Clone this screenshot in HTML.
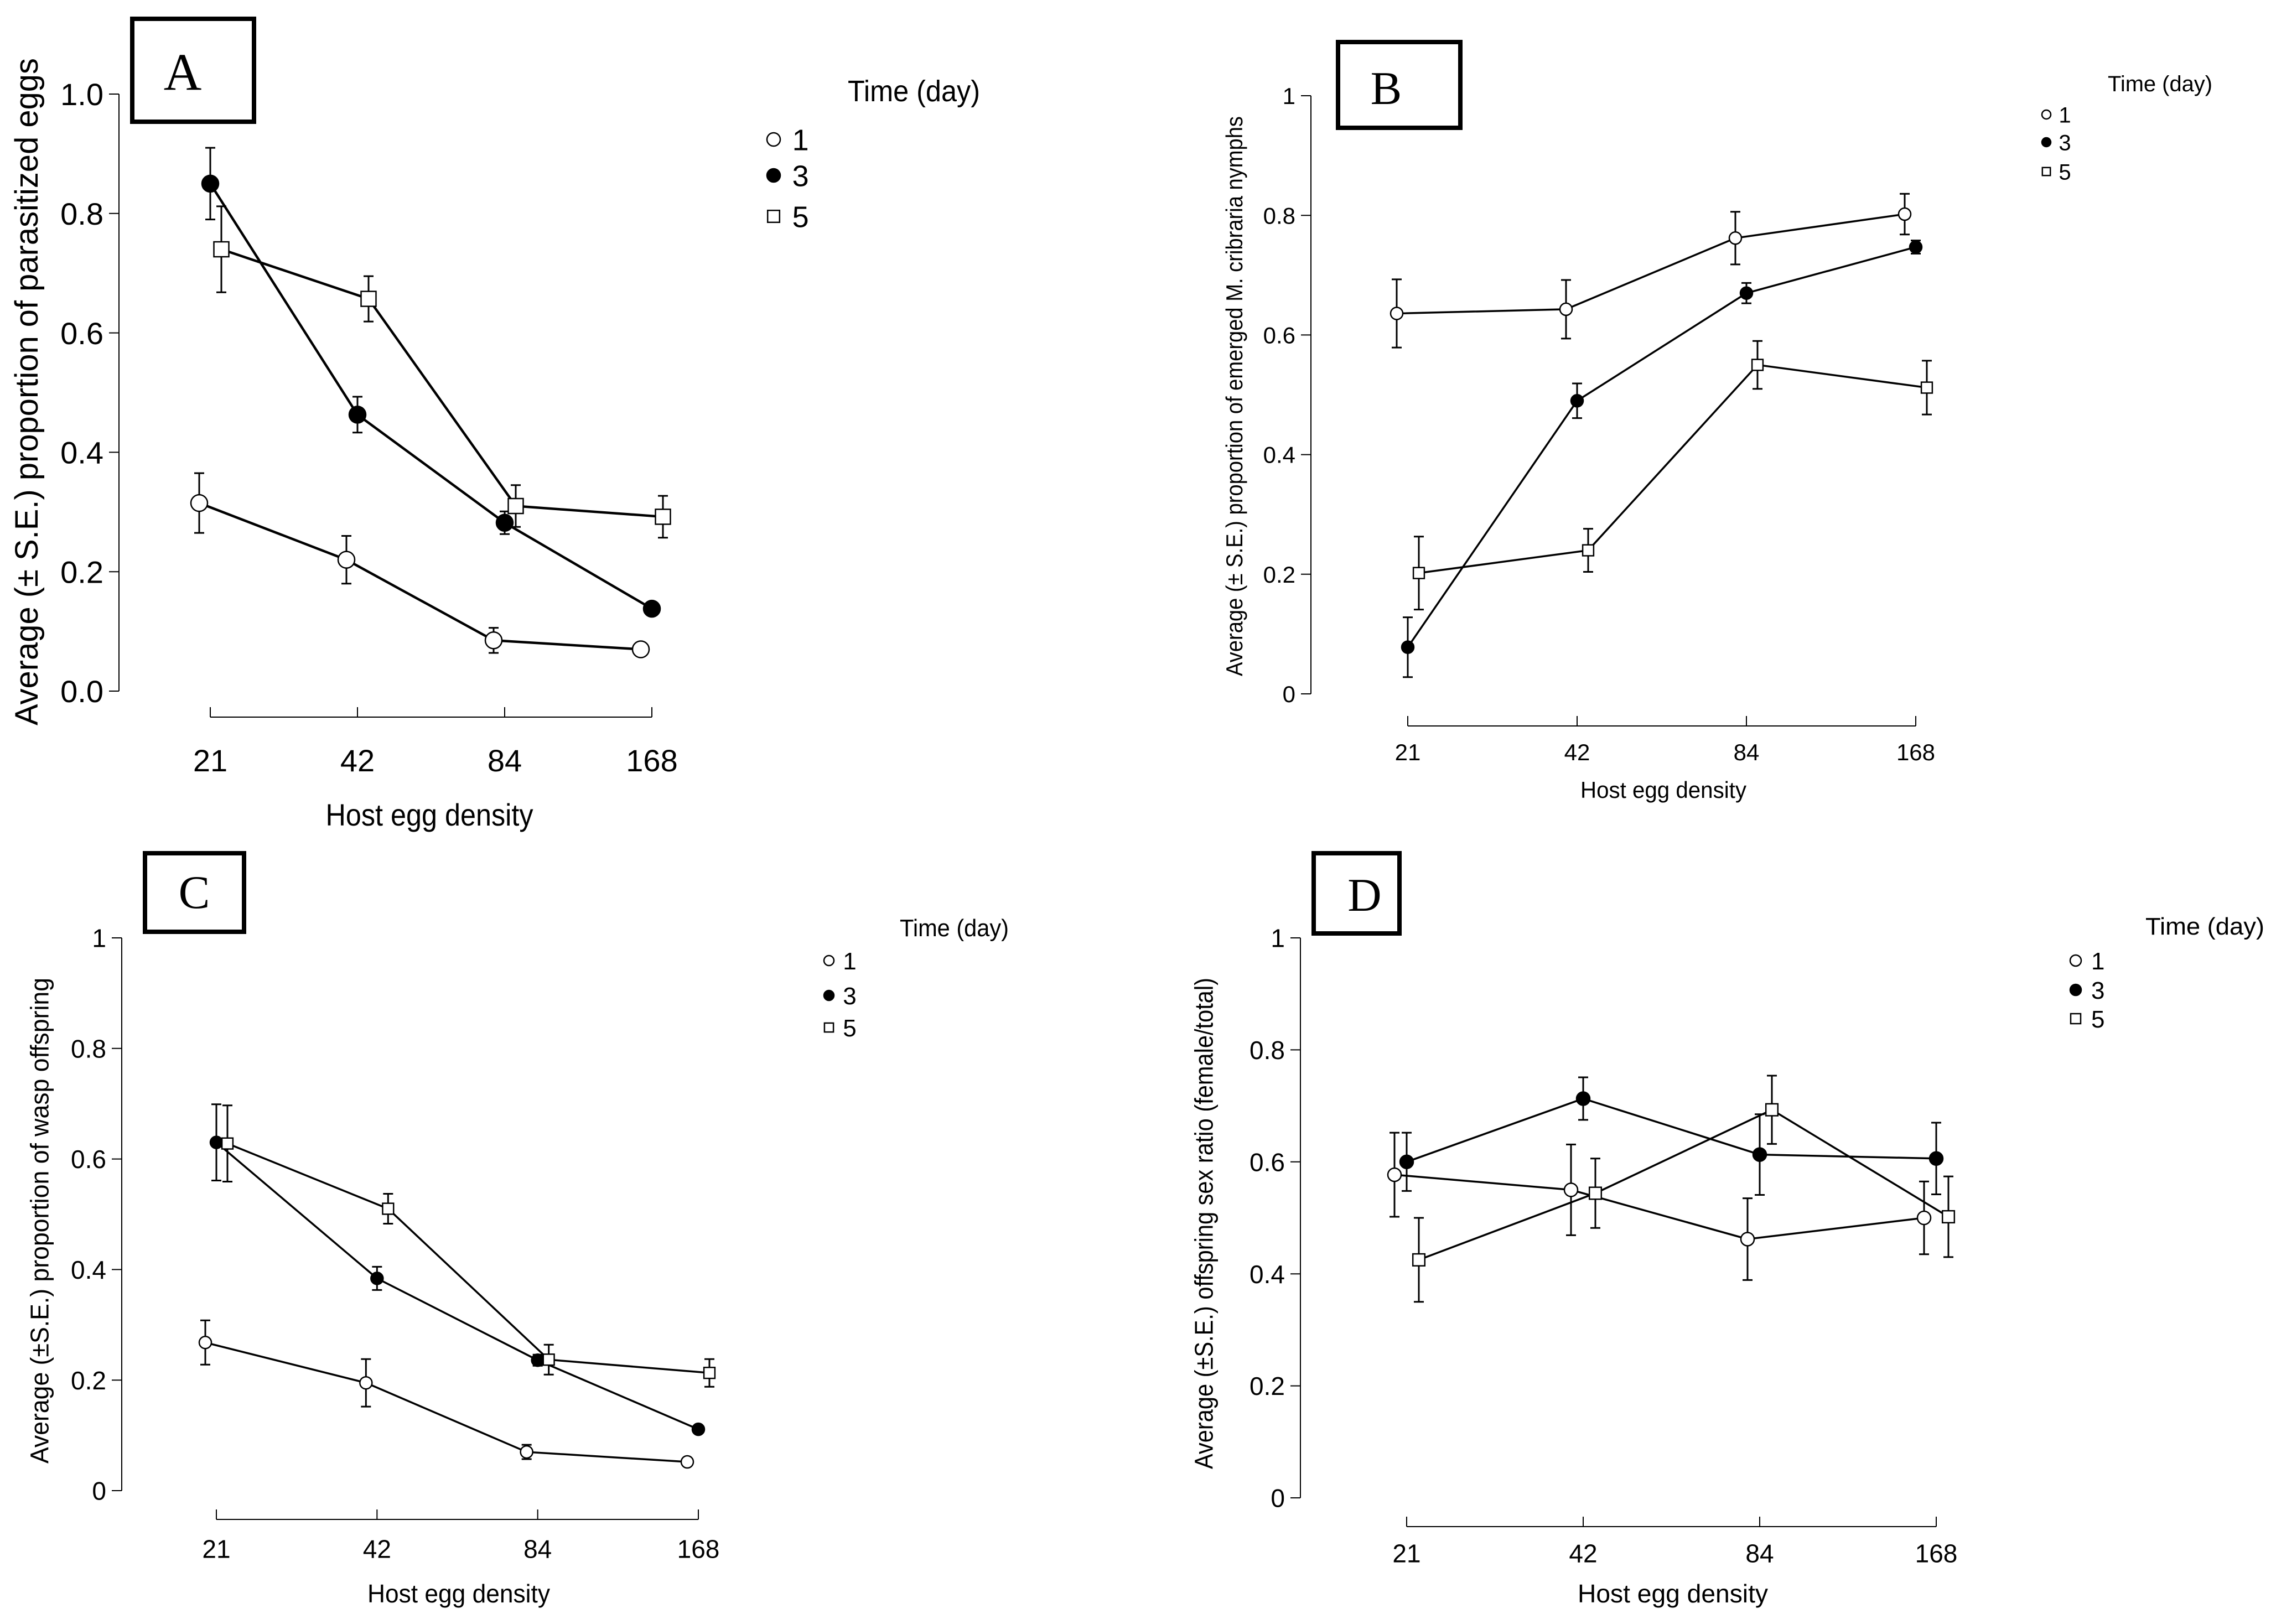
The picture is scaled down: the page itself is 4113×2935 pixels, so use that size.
<!DOCTYPE html>
<html><head><meta charset="utf-8"><style>
html,body{margin:0;padding:0;background:#fff}
svg{display:block}
text{font-family:"Liberation Sans Narrow","Liberation Sans",sans-serif;fill:#000}
.serif{font-family:"Liberation Serif",serif}
</style></head><body>
<svg id="fig" width="4113" height="2935" viewBox="0 0 4113 2935" xmlns="http://www.w3.org/2000/svg"></svg>
<script>
const categories = ["21","42","84","168"];
const seriesNames = ["1","3","5"];
// Panel A: proportion of parasitized eggs
const aMean1 = [0.315,0.22,0.085,0.07];   const aErr1 = [0.05,0.04,0.021,0.01];
const aMean3 = [0.85,0.463,0.282,0.138];  const aErr3 = [0.06,0.03,0.019,0];
const aMean5 = [0.74,0.657,0.31,0.292];   const aErr5 = [0.072,0.038,0.035,0.035];
// Panel B: emerged nymphs
const bMean1 = [0.636,0.643,0.762,0.802]; const bErr1 = [0.057,0.049,0.044,0.034];
const bMean3 = [0.078,0.49,0.67,0.747];   const bErr3 = [0.05,0.029,0.017,0.011];
const bMean5 = [0.202,0.24,0.55,0.512];   const bErr5 = [0.061,0.036,0.04,0.045];
// Panel C: wasp offspring
const cMean1 = [0.268,0.195,0.07,0.052];  const cErr1 = [0.04,0.043,0.013,0.007];
const cMean3 = [0.63,0.384,0.236,0.111];  const cErr3 = [0.069,0.021,0.01,0];
const cMean5 = [0.628,0.51,0.237,0.213];  const cErr5 = [0.069,0.027,0.027,0.025];
// Panel D: sex ratio
const dMean1 = [0.577,0.55,0.462,0.50];   const dErr1 = [0.075,0.081,0.073,0.065];
const dMean3 = [0.60,0.713,0.613,0.606];  const dErr3 = [0.052,0.038,0.072,0.064];
const dMean5 = [0.425,0.544,0.693,0.502]; const dErr5 = [0.075,0.062,0.061,0.072];
const yTicksA = ["0.0","0.2","0.4","0.6","0.8","1.0"];
const yTicksB = ["0","0.2","0.4","0.6","0.8","1"];

const NS="http://www.w3.org/2000/svg";
const svg=document.getElementById('fig');
function mk(tag,attrs,parent){const e=document.createElementNS(NS,tag);for(const k in attrs)e.setAttribute(k,attrs[k]);(parent||svg).appendChild(e);return e;}

const panels=[
 {id:'a',letter:'A',means:[aMean1,aMean3,aMean5],errs:[aErr1,aErr3,aErr5],ticks:yTicksA,
  ax:215,y0:1249,y1:170,xay:1296,xf:380,xl:1178,off:20,r:15,fs:56,sw:4.5,
  yt:"Average (± S.E.) proportion of parasitized eggs",ytx:47,ytc:708,ytl:1206,ytfs:58,
  xt:"Host egg density",xtx:776,xty:1492,xtl:375,xtfs:56,tly:1374,
  box:[239,34,220,186],lc:[330,131],lfs:95,
  lgx:1398,lgt:[1532,183,239],lgy:[252,317,391],lfs2:54,lr:12},
 {id:'b',letter:'B',means:[bMean1,bMean3,bMean5],errs:[bErr1,bErr3,bErr5],ticks:yTicksB,
  ax:2369,y0:1254,y1:173,xay:1312,xf:2544,xl:3462,off:20,r:11,fs:42,sw:3.5,
  yt:"Average (± S.E.) proportion of emerged M. cribraria nymphs",ytx:2230,ytc:716,ytl:1012,ytfs:42,
  xt:"Host egg density",xtx:3006,xty:1442,xtl:300,xtfs:42,tly:1359,
  box:[2418,76,221,155],lc:[2505,160],lfs:85,
  lgx:3698,lgt:[3809,165,189],lgy:[207,257,310],lfs2:40,lr:8},
 {id:'c',letter:'C',means:[cMean1,cMean3,cMean5],errs:[cErr1,cErr3,cErr5],ticks:yTicksB,
  ax:220,y0:2694,y1:1695,xay:2746,xf:391,xl:1262,off:20,r:11,fs:46,sw:3.5,
  yt:"Average (±S.E.) proportion of wasp offspring",ytx:71,ytc:2206,ytl:878,ytfs:46,
  xt:"Host egg density",xtx:829,xty:2896,xtl:330,xtfs:46,tly:2799,
  box:[262,1542,179,142],lc:[351,1613],lfs:85,
  lgx:1498,lgt:[1626,1692,197],lgy:[1736,1799,1857],lfs2:44,lr:9},
 {id:'d',letter:'D',means:[dMean1,dMean3,dMean5],errs:[dErr1,dErr3,dErr5],ticks:yTicksB,
  ax:2350,y0:2707,y1:1695,xay:2759,xf:2542,xl:3499,off:22,r:12,fs:46,sw:3.5,
  yt:"Average (±S.E.) offspring sex ratio (female/total)",ytx:2175,ytc:2211,ytl:888,ytfs:46,
  xt:"Host egg density",xtx:3023,xty:2896,xtl:344,xtfs:46,tly:2807,
  box:[2374,1542,155,145],lc:[2466,1618],lfs:85,
  lgx:3751,lgt:[3877,1689,215],lgy:[1736,1789,1841],lfs2:44,lr:10}
];

function marker(g,kind,x,y,r){
  let e;
  if(kind===2){e=mk('rect',{x:x-r*0.9,y:y-r*0.9,width:r*1.8,height:r*1.8,fill:'#fff',stroke:'#000','stroke-width':2.5},g);}
  else{e=mk('circle',{cx:x,cy:y,r:r,fill:kind===1?'#000':'#fff',stroke:'#000','stroke-width':2.5},g);}
  return e;
}

panels.forEach(p=>{
  const g=mk('g',{});
  
  
  const ys=v=>p.y0+(p.y1-p.y0)*v;
  const step=(p.xl-p.xf)/(categories.length-1);
  const xs=i=>p.xf+step*i;
  const ya=mk('g',{},g);
  
  
  mk('line',{x1:p.ax,y1:p.y0,x2:p.ax,y2:p.y1,stroke:'#000','stroke-width':2},ya);
  p.ticks.forEach((t,i)=>{
    const v=i/(p.ticks.length-1), y=ys(v);
    mk('line',{x1:p.ax-18,y1:y,x2:p.ax,y2:y,stroke:'#000','stroke-width':2},ya);
    const tx=mk('text',{x:p.ax-28,y:y+p.fs*0.36,'text-anchor':'end','font-size':p.fs},ya);
    tx.textContent=t;
    
    
  });
  const xa=mk('g',{},g);
  
  
  mk('line',{x1:p.xf,y1:p.xay,x2:p.xl,y2:p.xay,stroke:'#000','stroke-width':2},xa);
  categories.forEach((c,i)=>{
    mk('line',{x1:xs(i),y1:p.xay,x2:xs(i),y2:p.xay-18,stroke:'#000','stroke-width':2},xa);
    const tx=mk('text',{x:xs(i),y:p.tly+p.fs*0.36,'text-anchor':'middle','font-size':p.fs},xa);
    tx.textContent=c;
    
    
  });
  const yt=mk('text',{x:0,y:0,'text-anchor':'middle','font-size':p.ytfs,textLength:p.ytl,lengthAdjust:'spacingAndGlyphs',transform:`translate(${p.ytx+p.ytfs*0.36},${p.ytc}) rotate(-90)`},g);
  yt.textContent=p.yt;
  
  
  const xt=mk('text',{x:p.xtx,y:p.xty,'text-anchor':'middle','font-size':p.xtfs,textLength:p.xtl,lengthAdjust:'spacingAndGlyphs'},g);
  xt.textContent=p.xt;
  
  
  const bx=mk('rect',{x:p.box[0],y:p.box[1],width:p.box[2],height:p.box[3],fill:'none',stroke:'#000','stroke-width':8},g);
  
  
  const lt=mk('text',{x:p.lc[0],y:p.lc[1]+p.lfs*0.33,'text-anchor':'middle','font-size':p.lfs,class:'serif'},g);
  lt.textContent=p.letter;
  
  
  p.means.forEach((m,s)=>{
    const sg=mk('g',{},g);
    
    
    const dx=(s-1)*p.off;
    const pts=m.map((v,i)=>(xs(i)+dx)+','+ys(v)).join(' ');
    const pl=mk('polyline',{points:pts,fill:'none',stroke:'#000','stroke-width':p.sw},sg);
    
    
    m.forEach((v,i)=>{
      const e=p.errs[s][i], x=xs(i)+dx;
      if(e>0){
        const eb=mk('path',{d:`M${x},${ys(v-e)}V${ys(v+e)}M${x-9},${ys(v-e)}H${x+9}M${x-9},${ys(v+e)}H${x+9}`,stroke:'#000','stroke-width':3,fill:'none'},sg);
        
        
      }
      const mkr=marker(sg,s,x,ys(v),p.r);
      
      
    });
  });
  const lg=mk('g',{},g);
  
  
  const ltt=mk('text',{x:p.lgt[0],y:p.lgt[1],'font-size':p.lfs2,textLength:p.lgt[2],lengthAdjust:'spacingAndGlyphs'},lg);
  ltt.textContent='Time (day)';
  
  
  seriesNames.forEach((n,s)=>{
    const y=p.lgy[s];
    const m=marker(lg,s,p.lgx,y,p.lr);
    
    
    const t=mk('text',{x:p.lgx+p.lr*2.8,y:y+p.lfs2*0.36,'font-size':p.lfs2},lg);
    t.textContent=n;
    
    
  });
});
</script>
</body></html>
